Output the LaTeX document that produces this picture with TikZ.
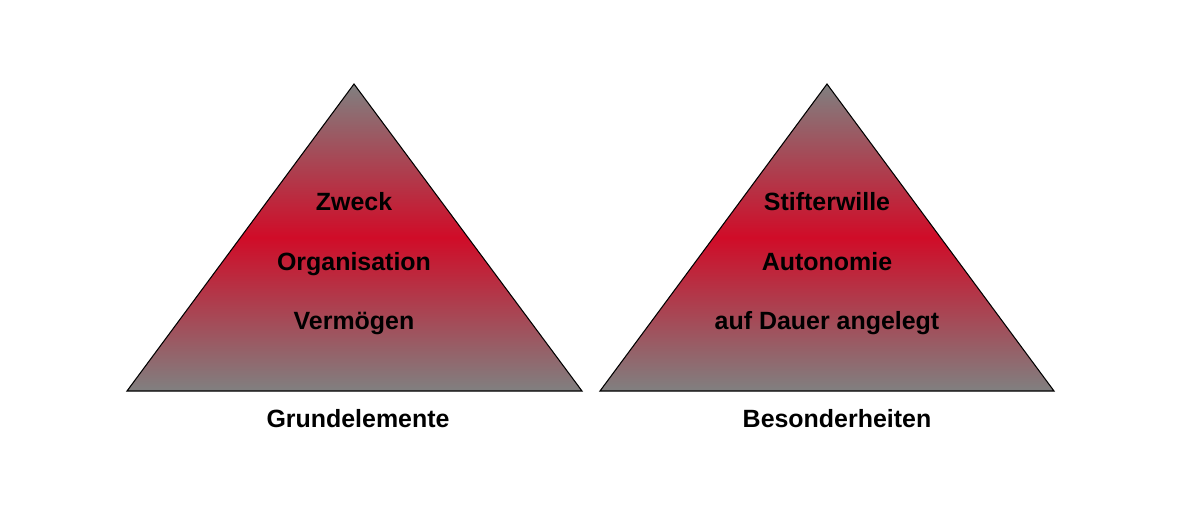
\documentclass[tikz,border=0pt]{standalone}
\usepackage{fontspec}
\setmainfont{Liberation Sans}
\usepackage{xcolor}
\usepackage{tikz}
\definecolor{grey}{HTML}{808080}
\definecolor{deepred}{HTML}{D00C28}
\tikzset{
  pyr/.style={draw=black, line width=0.6pt, top color=grey, bottom color=grey, middle color=deepred},
  lab/.style={anchor=base, font=\bfseries\fontsize{14.2}{17}\selectfont, text=black, inner sep=0pt}
}

\begin{document}
\begin{tikzpicture}[x=0.02cm, y=-0.02cm]
  \useasboundingbox (0,0) rectangle (1200,522);

  % Grundelemente
  \coordinate (A1) at (354,84);
  \coordinate (B1) at (127,391);
  \coordinate (C1) at (582,391);
  \shade[pyr] (A1)--(B1)--(C1)--cycle;
  \node[lab] (zweck) at (354,210) {Zweck};
  \node[lab] (org) at (354,270) {Organisation};
  \node[lab] (verm) at (354,329) {Vermögen};
  \node[lab] (grund) at (358,427) {Grundelemente};

  % Besonderheiten
  \coordinate (A2) at (827,84);
  \coordinate (B2) at (600,391);
  \coordinate (C2) at (1054,391);
  \shade[pyr] (A2)--(B2)--(C2)--cycle;
  \node[lab] (stift) at (827,210) {Stifterwille};
  \node[lab] (auto) at (827,270) {Autonomie};
  \node[lab] (dauer) at (827,329) {auf Dauer angelegt};
  \node[lab] (bes) at (837,427) {Besonderheiten};
\end{tikzpicture}
\end{document}
